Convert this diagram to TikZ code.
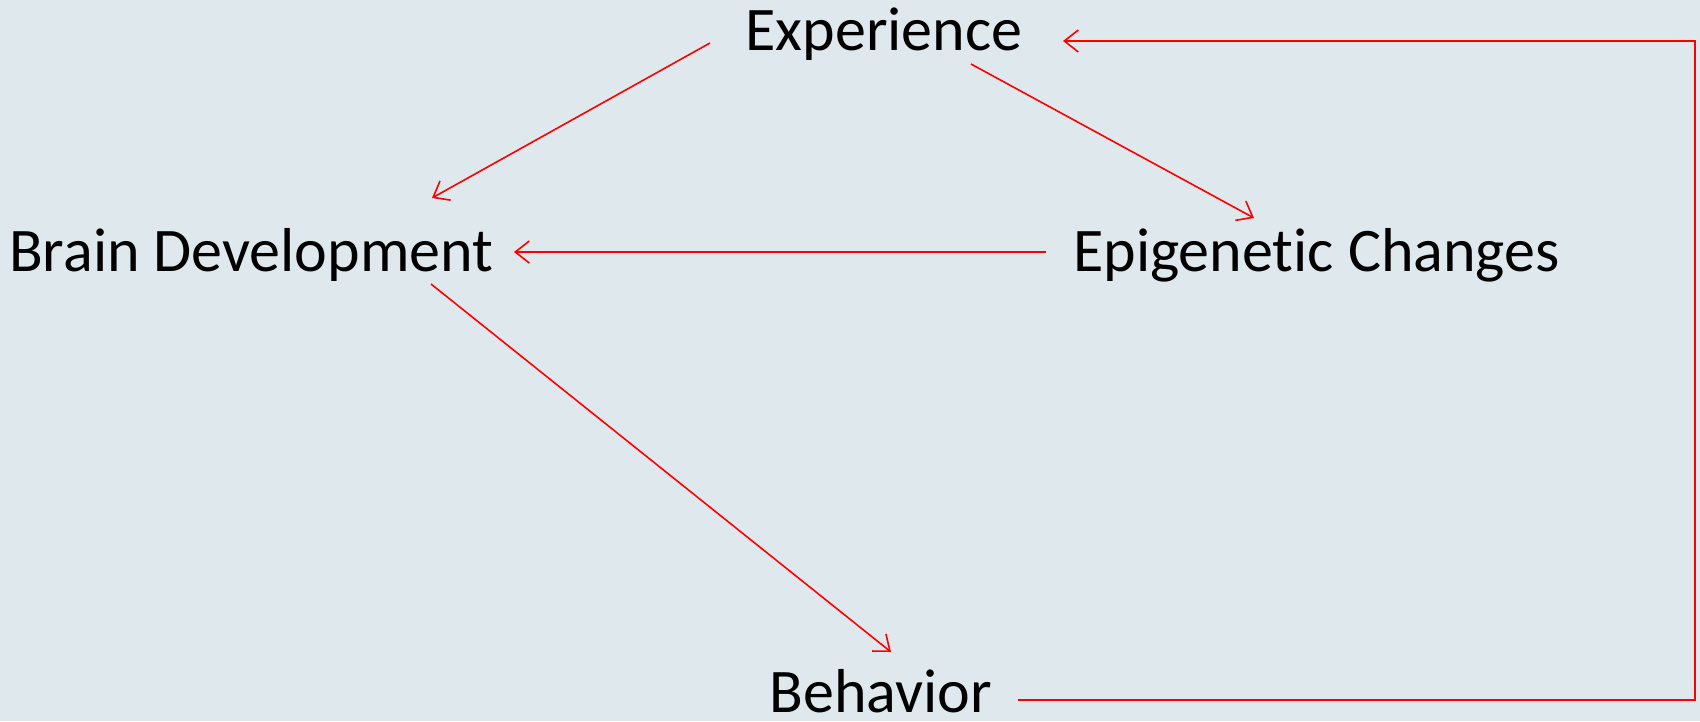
\documentclass[tikz,border=0pt]{standalone}
\usepackage{fontspec}
\setmainfont{Carlito}[RawFeature={-liga}]
\usetikzlibrary{arrows.meta,calc}
\definecolor{bgcol}{HTML}{DEE8ED}
\begin{document}
\begin{tikzpicture}[x=1pt,y=-1pt,
  lbl/.style={inner sep=0pt,font=\fontsize{62}{70}\selectfont,text=black},
  arr/.style={draw=red,line width=1.6pt,-{Straight Barb[length=14pt,width=22pt,line width=1.6pt]}}]
\fill[bgcol] (0,0) rectangle (1700,721);
\useasboundingbox (0,0) rectangle (1700,721);
\node[lbl,anchor=base] (exp) at (884,50) {Experience};
\node[lbl,anchor=base west] (brain) at (9,271) {Brain Development};
\node[lbl,anchor=base west] (epi) at (1073,271) {Epigenetic Changes};
\node[lbl,anchor=base] (beh) at (881,712) {Behavior};
\coordinate (corner) at (1695,41);
\draw[arr] ([shift={(-174,-7)}]exp.base) -- ([shift={(423,-73)}]brain.base west);
\draw[arr] ([shift={(87,14)}]exp.base) -- ([shift={(181,-53)}]epi.base west);
\draw[arr] ([shift={(-27,-19)}]epi.base west) -- ([shift={(505,-19)}]brain.base west);
\draw[arr] ([shift={(422,13)}]brain.base west) -- ([shift={(10,-60)}]beh.base);
\draw[arr] ([shift={(137,-12)}]beh.base) -| (corner) -- ([shift={(179,-9)}]exp.base);
\end{tikzpicture}
\end{document}
